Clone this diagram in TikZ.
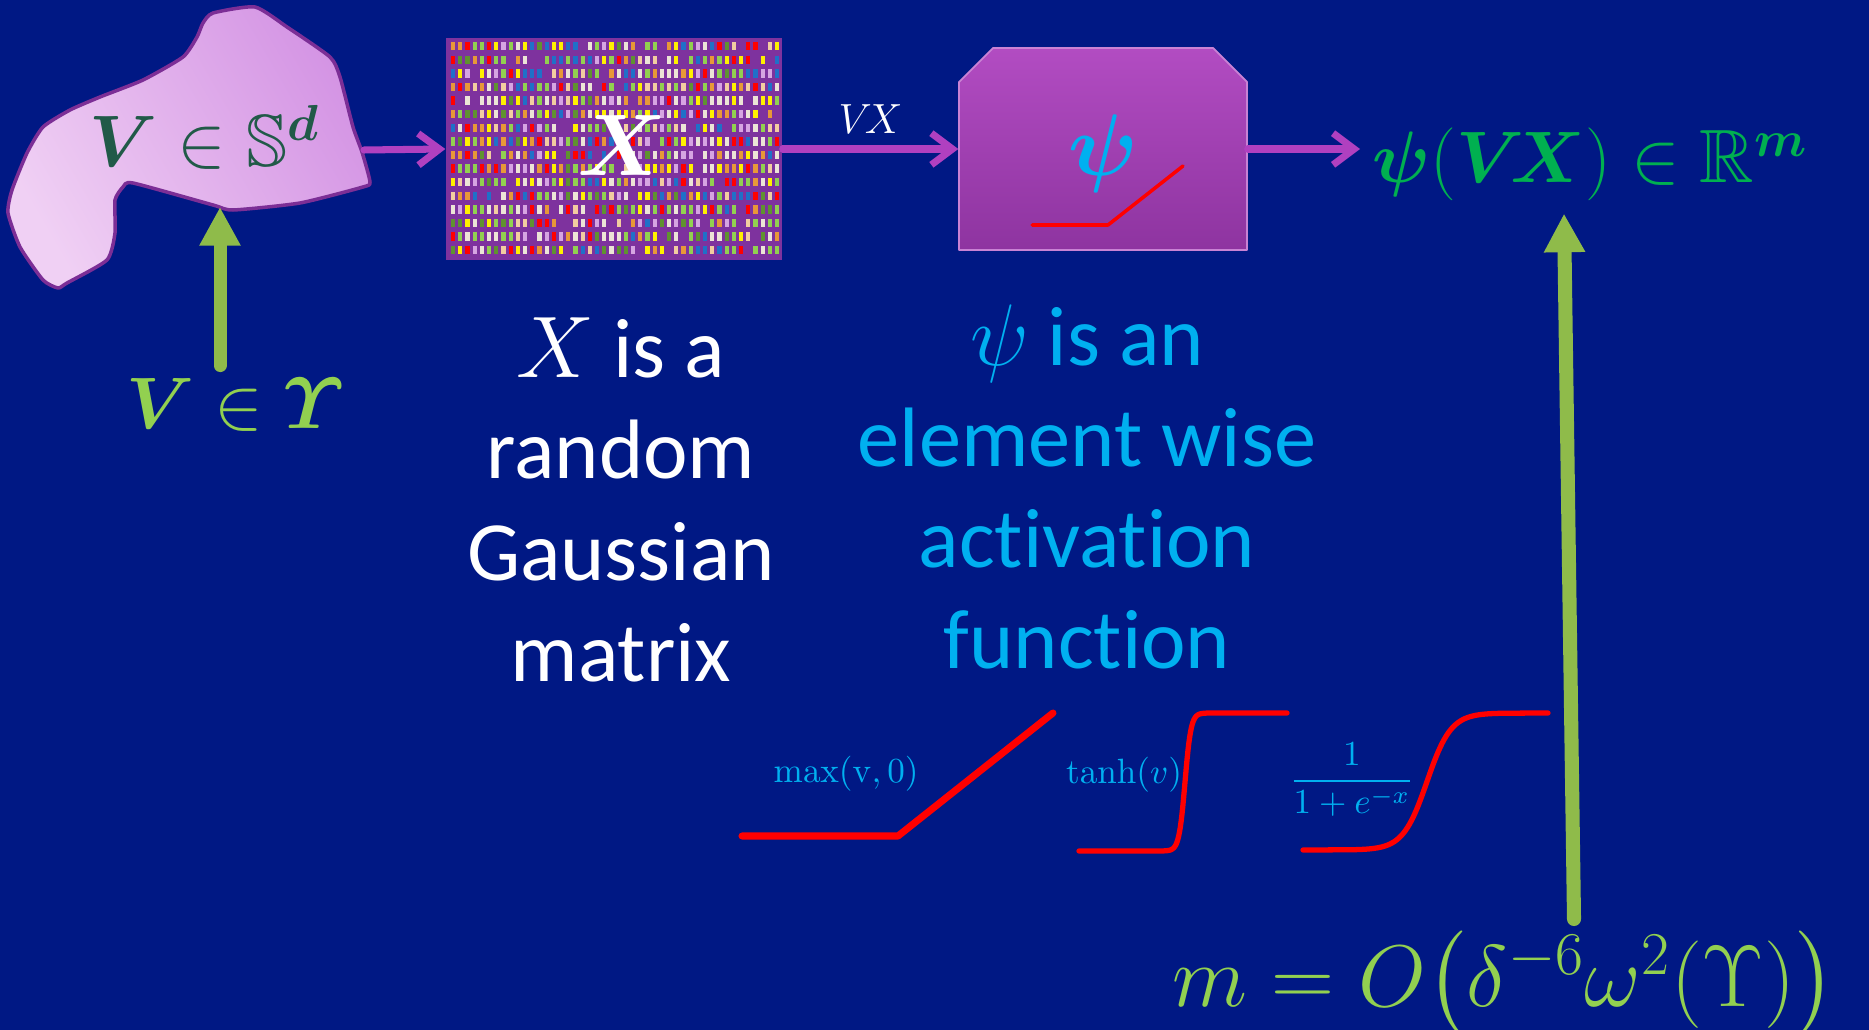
\documentclass[tikz,border=0pt]{standalone}
\usepackage{amsmath,amssymb}
\usepackage[no-math]{fontspec}
\setmainfont{Carlito}[Ligatures=NoCommon]
\usetikzlibrary{arrows.meta,positioning}

\definecolor{slidebg}{RGB}{0,24,132}
\definecolor{arrowpurple}{RGB}{176,64,192}
\definecolor{matpurple}{RGB}{126,50,158}
\definecolor{boxtop}{RGB}{178,76,194}
\definecolor{boxbot}{RGB}{142,52,160}
\definecolor{fncyan}{RGB}{0,176,240}
\definecolor{outgreen}{RGB}{0,176,80}
\definecolor{limegreen}{RGB}{146,208,80}
\definecolor{arrowlime}{RGB}{143,187,74}
\definecolor{blobhi}{RGB}{240,208,244}
\definecolor{bloblo}{RGB}{212,148,228}
\definecolor{blobedge}{RGB}{124,46,150}
\definecolor{blobtext}{RGB}{33,90,72}
% bar colours of the random matrix
\definecolor{mc1}{RGB}{236,228,214}
\definecolor{mc2}{RGB}{146,208,80}
\definecolor{mc3}{RGB}{96,146,48}
\definecolor{mc4}{RGB}{232,152,56}
\definecolor{mc5}{RGB}{214,164,226}
\definecolor{mc6}{RGB}{32,112,200}
\definecolor{mc7}{RGB}{255,0,0}
\definecolor{mc8}{RGB}{255,240,0}
\definecolor{mc9}{RGB}{242,204,160}
\definecolor{mc10}{RGB}{126,50,158}
\definecolor{mc11}{RGB}{236,228,214}
\definecolor{mc12}{RGB}{146,208,80}

\tikzset{
  flow/.style={arrowpurple, line width=2pt, -{Straight Barb[length=6pt,width=9pt]}},
  lift/.style={arrowlime, line width=3.7pt, -{Triangle[length=11pt,width=11pt]}},
  act/.style={red, line width=1.5pt},
  caption/.style={font=\fontsize{24}{28.8}\selectfont, align=center},
  fnlabel/.style={text=fncyan, font=\fontsize{10}{12}\selectfont},
  bigmath/.style={font=\fontsize{22}{27}\selectfont, anchor=base},
}

\begin{document}
\begin{tikzpicture}[x=0.1mm, y=-0.1mm, line cap=round, line join=round]
\useasboundingbox (0,0) rectangle (1869,1030);
\fill[slidebg] (0,0) rectangle (1869,1030);

% the set on the sphere
\draw[blobedge, line width=1pt, left color=blobhi, right color=bloblo, shading angle=120]
  plot[smooth cycle, tension=0.35] coordinates {
  (213,13) (255,7) (287,27) (330,57) (340,77) (353,127) (362,152) (370,182)
  (363,187) (300,203) (233,210) (213,205) (133,183) (123,187) (115,200)
  (115,233) (107,260) (67,283) (58,288) (43,280) (20,247) (8,213) (12,190)
  (27,153) (43,127) (70,110) (100,97) (143,80) (183,57) (197,37) (203,23)};
\node[bigmath, font=\fontsize{21}{26}\selectfont, text=blobtext] (sphere) at (205,167) {$\boldsymbol{V}\in\mathbb{S}^{\boldsymbol{d}}$};
\coordinate (sphereE) at (364,150);
\coordinate (sphereB) at (220,207);

\node[bigmath, text=limegreen] (vin) at (235,428) {$\boldsymbol{V}\in\boldsymbol{\varUpsilon}$};
\draw[lift] (vin.north -| sphereB) -- (sphereB);

% random Gaussian matrix
\node[fill=matpurple, minimum width=33.6mm, minimum height=22.2mm, inner sep=0] (mat) at (614,149) {};
\pgfmathsetseed{7}
\foreach \i in {0,...,45} {
  \foreach \j in {0,...,15} {
    \pgfmathrandominteger{\k}{1}{12}
    \fill[mc\k] (451+7.2*\i,42+13.6*\j) rectangle ++(4.2,8.5);
  }
}
\node[bigmath, font=\fontsize{24}{28}\selectfont, text=white] (matlab) at (622,176) {$\boldsymbol{X}$};

% activation box
\node[minimum width=28.8mm, minimum height=20.2mm, inner sep=0] (psibox) at (1103,149) {};
\draw[boxtop!70!white, line width=0.5pt, top color=boxtop, bottom color=boxbot]
  (959,250) -- (959,82) -- (993,48) -- (1213,48) -- (1247,82) -- (1247,250) -- cycle;
\node[bigmath, font=\fontsize{24}{28}\selectfont, text=fncyan] (psisym) at (1103,176) {$\boldsymbol{\psi}$};
\draw[red, line width=1pt] (1032,225) -- (1108,225) -- (1183,166);

\node[bigmath, font=\fontsize{21.5}{26}\selectfont, anchor=base west, text=outgreen] (out) at (1360,183)
  {$\boldsymbol{\psi}(\boldsymbol{V\!X})\in\mathbb{R}^{\boldsymbol{m}}$};

\draw[flow] (sphereE) -- (mat.west);
\draw[flow] (mat.east) -- (psibox.west)
  node[midway, above, text=white, font=\fontsize{12}{14}\selectfont] (vx) {$V\!X$};
\draw[flow] (psibox.east) -- (psibox.east -| out.west);

% descriptions
\node[caption, text=white] (xdesc) at (621,500) {$X$ is a\\random\\Gaussian\\matrix};
\node[caption, text=fncyan] (psidesc) at (1087,487) {$\psi$ is an\\element wise\\activation\\function};

% activation examples
\node[fnlabel, anchor=base] (relulab) at (846,782) {$\max(\mathrm{v},0)$};
\draw[act, line width=2pt] (742,836) -- (898,836) -- (1053,713);
\node[fnlabel, anchor=base] (tanhlab) at (1124,783) {$\tanh(v)$};
\draw[act, domain=1160:1210, samples=60, variable=\x]
  (1079,851) -- plot ({\x},{782-69*tanh((\x-1185)/6)}) -- (1287,713);
\node[fnlabel] (siglab) at (1352,780) {$\dfrac{1}{1+e^{-x}}$};
\draw[act, domain=1350:1505, samples=80, variable=\x]
  (1303,850) -- plot ({\x},{781.5-68.5*tanh((\x-1427)/24)}) -- (1548,713);

% width bound
\node[bigmath, anchor=base west, font=\fontsize{25}{30}\selectfont, text=limegreen] (bound) at (1160,1006)
  {$m=O\big(\delta^{-6}\omega^{2}(\Upsilon)\big)$};
\coordinate (liftfoot) at (1574,912);
\coordinate (lifttip) at (1564,230);
\draw[lift, line width=4pt] (bound.north -| liftfoot) -- (out.south -| lifttip);
\end{tikzpicture}
\end{document}
